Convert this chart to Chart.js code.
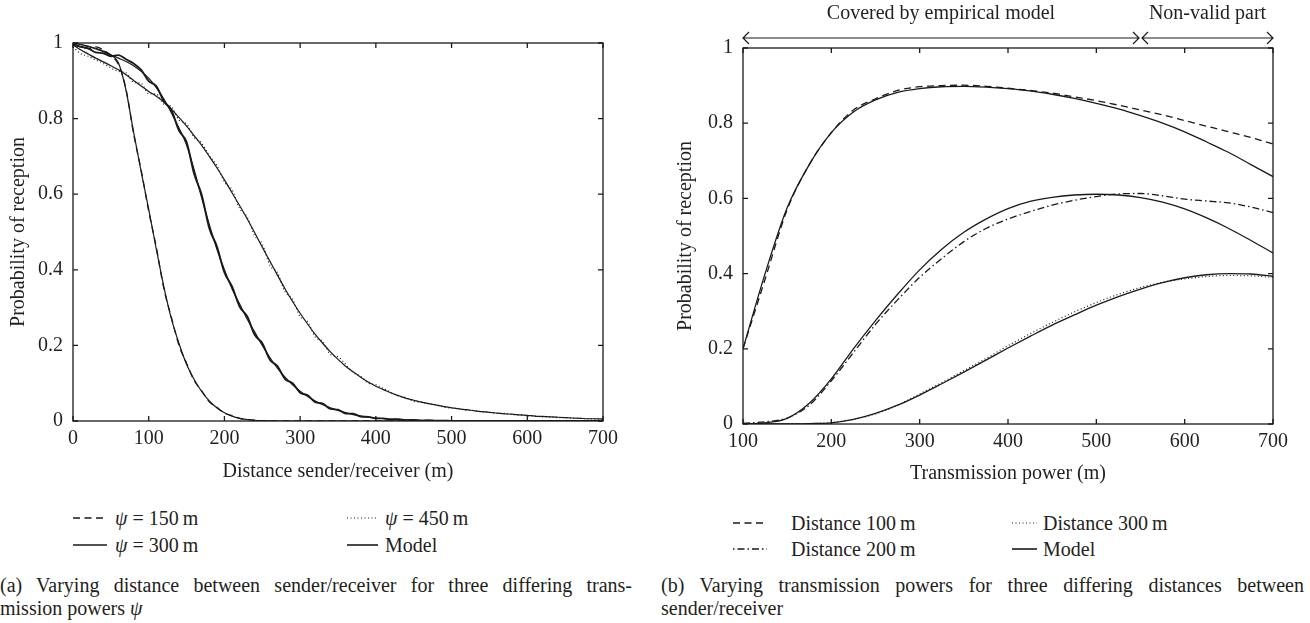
<!DOCTYPE html>
<html lang="en">
<head>
<meta charset="UTF-8">
<title>Probability of reception</title>
<script src="https://cdn.jsdelivr.net/npm/chart.js"></script>
<style>
  body { margin: 0; background: #fff; }
  #page {
    position: relative;
    width: 1310px;
    height: 623px;
    font-family: 'Liberation Serif', serif;
    color: #231f20;
  }
  canvas { position: absolute; top: 0; }
  #chartA { left: 0; }
  #chartB { left: 655px; }
  .sample { position: absolute; }
  .leg { position: absolute; font-size: 20px; line-height: 24px; white-space: nowrap; }
  .cap { position: absolute; font-size: 20px; line-height: 23px; }
  .just { text-align: justify; text-align-last: justify; white-space: nowrap; }
</style>
</head>
<body>
<div id="page">
  <canvas id="chartA" width="655" height="500"></canvas>
  <canvas id="chartB" width="655" height="500"></canvas>

  <!-- legend (a) -->
  <svg class="sample" style="left:73px;top:513px" width="34" height="10"><line x1="0" y1="5" x2="34" y2="5" stroke="#1a1a1a" stroke-width="1.3" stroke-dasharray="7 4.5"/></svg>
  <div class="leg" style="left:115px;top:506px"><i>ψ</i> = 150&thinsp;m</div>
  <svg class="sample" style="left:73px;top:540px" width="34" height="10"><line x1="0" y1="5" x2="34" y2="5" stroke="#1a1a1a" stroke-width="1.6"/></svg>
  <div class="leg" style="left:115px;top:533px"><i>ψ</i> = 300&thinsp;m</div>
  <svg class="sample" style="left:347px;top:513px" width="31" height="10"><line x1="0" y1="5" x2="31" y2="5" stroke="#1a1a1a" stroke-width="1.2" stroke-dasharray="1 2.5"/></svg>
  <div class="leg" style="left:385px;top:506px"><i>ψ</i> = 450&thinsp;m</div>
  <svg class="sample" style="left:347px;top:540px" width="31" height="10"><line x1="0" y1="5" x2="31" y2="5" stroke="#1a1a1a" stroke-width="1.6"/></svg>
  <div class="leg" style="left:385px;top:533px">Model</div>

  <!-- legend (b) -->
  <svg class="sample" style="left:733px;top:518px" width="34" height="10"><line x1="0" y1="5" x2="34" y2="5" stroke="#1a1a1a" stroke-width="1.3" stroke-dasharray="7 4.5"/></svg>
  <div class="leg" style="left:791px;top:511px">Distance 100&thinsp;m</div>
  <svg class="sample" style="left:733px;top:544px" width="34" height="10"><line x1="0" y1="5" x2="34" y2="5" stroke="#1a1a1a" stroke-width="1.3" stroke-dasharray="1.5 3 7 3"/></svg>
  <div class="leg" style="left:791px;top:537px">Distance 200&thinsp;m</div>
  <svg class="sample" style="left:1012px;top:518px" width="25" height="10"><line x1="0" y1="5" x2="25" y2="5" stroke="#1a1a1a" stroke-width="1.2" stroke-dasharray="1 2.5"/></svg>
  <div class="leg" style="left:1043px;top:511px">Distance 300&thinsp;m</div>
  <svg class="sample" style="left:1012px;top:544px" width="25" height="10"><line x1="0" y1="5" x2="25" y2="5" stroke="#1a1a1a" stroke-width="1.6"/></svg>
  <div class="leg" style="left:1043px;top:537px">Model</div>

  <!-- captions -->
  <div class="cap" style="left:0;top:574px;width:632px">
    <div class="just">(a) Varying distance between sender/receiver for three differing trans-</div>
    <div>mission powers <i>ψ</i></div>
  </div>
  <div class="cap" style="left:661px;top:574px;width:643px">
    <div class="just">(b) Varying transmission powers for three differing distances between</div>
    <div>sender/receiver</div>
  </div>
</div>

<script>
  // (a) distance sender/receiver (m), one sample every 10 m
  const distA = [
    0, 10, 20, 30, 40, 50, 60, 70, 80, 90,
    100, 110, 120, 130, 140, 150, 160, 170, 180, 190,
    200, 210, 220, 230, 240, 250, 260, 270, 280, 290,
    300, 310, 320, 330, 340, 350, 360, 370, 380, 390,
    400, 410, 420, 430, 440, 450, 460, 470, 480, 490,
    500, 510, 520, 530, 540, 550, 560, 570, 580, 590,
    600, 610, 620, 630, 640, 650, 660, 670, 680, 690,
    700
  ];

  const meas150 = [
    0.995, 0.99, 0.985, 0.99, 0.982, 0.966, 0.944, 0.878, 0.76, 0.664,
    0.555, 0.46, 0.35, 0.274, 0.2, 0.153, 0.107, 0.08, 0.051, 0.036,
    0.021, 0.014, 0.007, 0.004, 0.002, 0.001, 0.001, 0, 0, 0,
    0, 0, 0, 0, 0, 0, 0, 0, 0, 0,
    0, 0, 0, 0, 0, 0, 0, 0, 0, 0,
    0, 0, 0, 0, 0, 0, 0, 0, 0, 0,
    0, 0, 0, 0, 0, 0, 0, 0, 0, 0,
    0
  ];
  const meas300 = [
    0.998, 0.99, 0.986, 0.975, 0.973, 0.965, 0.968, 0.957, 0.946, 0.929,
    0.899, 0.886, 0.846, 0.822, 0.768, 0.738, 0.654, 0.598, 0.51, 0.462,
    0.393, 0.356, 0.303, 0.277, 0.228, 0.206, 0.162, 0.145, 0.111, 0.1,
    0.075, 0.068, 0.05, 0.046, 0.032, 0.03, 0.02, 0.019, 0.012, 0.011,
    0.007, 0.007, 0.004, 0.005, 0.002, 0.003, 0.001, 0.002, 0.001, 0.001,
    0, 0, 0, 0, 0, 0, 0, 0, 0, 0,
    0, 0, 0, 0, 0, 0, 0, 0, 0, 0,
    0
  ];
  const meas450 = [
    0.99, 0.972, 0.965, 0.955, 0.946, 0.934, 0.925, 0.921, 0.896, 0.893,
    0.866, 0.865, 0.838, 0.832, 0.796, 0.786, 0.75, 0.735, 0.702, 0.676,
    0.632, 0.612, 0.562, 0.54, 0.49, 0.468, 0.412, 0.392, 0.342, 0.322,
    0.276, 0.262, 0.222, 0.21, 0.176, 0.17, 0.15, 0.128, 0.118, 0.1,
    0.096, 0.086, 0.076, 0.066, 0.062, 0.052, 0.05, 0.045, 0.043, 0.037,
    0.034, 0.033, 0.028, 0.028, 0.024, 0.023, 0.02, 0.02, 0.017, 0.016,
    0.014, 0.013, 0.011, 0.011, 0.009, 0.009, 0.007, 0.007, 0.006, 0.005,
    0.005
  ];

  const model150 = [
    1.0, 0.996, 0.992, 0.986, 0.979, 0.968, 0.948, 0.875, 0.765, 0.66,
    0.56, 0.455, 0.355, 0.27, 0.205, 0.15, 0.11, 0.078, 0.053, 0.035,
    0.022, 0.013, 0.007, 0.004, 0.002, 0.001, 0.0005, 0, 0, 0,
    0, 0, 0, 0, 0, 0, 0, 0, 0, 0,
    0, 0, 0, 0, 0, 0, 0, 0, 0, 0,
    0, 0, 0, 0, 0, 0, 0, 0, 0, 0,
    0, 0, 0, 0, 0, 0, 0, 0, 0, 0,
    0
  ];
  const model300 = [
    1.0, 0.996, 0.99, 0.984, 0.977, 0.969, 0.96, 0.951, 0.94, 0.925,
    0.907, 0.882, 0.852, 0.815, 0.775, 0.73, 0.665, 0.59, 0.52, 0.455,
    0.4, 0.35, 0.31, 0.27, 0.235, 0.2, 0.168, 0.14, 0.116, 0.096,
    0.079, 0.065, 0.053, 0.043, 0.035, 0.028, 0.022, 0.017, 0.013, 0.01,
    0.008, 0.006, 0.005, 0.004, 0.003, 0.002, 0.002, 0.001, 0.001, 0.001,
    0, 0, 0, 0, 0, 0, 0, 0, 0, 0,
    0, 0, 0, 0, 0, 0, 0, 0, 0, 0,
    0
  ];
  const model450 = [
    0.995, 0.982, 0.971, 0.96, 0.95, 0.94, 0.929, 0.916, 0.901, 0.886,
    0.872, 0.859, 0.844, 0.825, 0.803, 0.78, 0.755, 0.729, 0.7, 0.67,
    0.638, 0.604, 0.57, 0.535, 0.498, 0.46, 0.423, 0.386, 0.35, 0.316,
    0.285, 0.256, 0.229, 0.205, 0.183, 0.163, 0.145, 0.13, 0.116, 0.103,
    0.092, 0.083, 0.074, 0.067, 0.06, 0.055, 0.05, 0.046, 0.042, 0.038,
    0.035, 0.032, 0.03, 0.027, 0.025, 0.023, 0.021, 0.019, 0.018, 0.016,
    0.015, 0.013, 0.012, 0.011, 0.01, 0.009, 0.008, 0.007, 0.006, 0.006,
    0.005
  ];

  // (b) transmission power (m), one sample every 25 m
  const powB = [
    100, 125, 150, 175, 200, 225, 250, 275, 300, 325, 350, 375, 400,
    425, 450, 475, 500, 525, 550, 575, 600, 625, 650, 675, 700
  ];
  const measD100 = [
    0.2, 0.385, 0.57, 0.69, 0.775, 0.835, 0.865, 0.887, 0.897, 0.9, 0.901, 0.898, 0.893,
    0.887, 0.88, 0.87, 0.86, 0.848, 0.835, 0.822, 0.807, 0.792, 0.777, 0.762, 0.745
  ];
  const measD200 = [
    0.002, 0.006, 0.016, 0.05, 0.115, 0.19, 0.265, 0.33, 0.39, 0.44, 0.485, 0.52, 0.545,
    0.565, 0.582, 0.595, 0.605, 0.612, 0.613, 0.607, 0.598, 0.593, 0.588, 0.577, 0.562
  ];
  const measD300 = [
    0, 0, 0, 0.001, 0.004, 0.012, 0.027, 0.05, 0.08, 0.11, 0.142, 0.174, 0.208,
    0.24, 0.27, 0.298, 0.323, 0.345, 0.363, 0.377, 0.386, 0.392, 0.395, 0.394, 0.39
  ];
  const modelD100 = [
    0.2, 0.4, 0.575, 0.69, 0.775, 0.83, 0.862, 0.882, 0.892, 0.897, 0.898, 0.896, 0.892,
    0.886, 0.877, 0.866, 0.853, 0.838, 0.82, 0.8, 0.777, 0.75, 0.722, 0.69, 0.658
  ];
  const modelD200 = [
    0, 0.003, 0.015, 0.055, 0.12, 0.2, 0.275, 0.345, 0.41, 0.465, 0.51, 0.545, 0.573,
    0.592, 0.603, 0.609, 0.611, 0.609, 0.602, 0.59, 0.572, 0.548, 0.52, 0.488, 0.455
  ];
  const modelD300 = [
    0, 0, 0, 0.001, 0.003, 0.012, 0.028, 0.05, 0.077, 0.107, 0.138, 0.17, 0.202,
    0.233, 0.263, 0.29, 0.316, 0.339, 0.359, 0.376, 0.389, 0.397, 0.4, 0.399, 0.393
  ];

  // region arrows above plot (b)
  const regionBounds = [100, 550, 700];
  const regionLabels = ['Covered by empirical model', 'Non-valid part'];

  const ink = '#1a1a1a';
  const textInk = '#231f20';
  const font = { family: "'Liberation Serif', serif", size: 20 };

  const DASH = [7, 4.5];
  const DOT = [1, 2.5];
  const DASHDOT = [7, 3, 1.5, 3];

  function series(xs, ys, dash, width) {
    return {
      data: xs.map((x, i) => ({ x: x, y: ys[i] })),
      borderColor: ink,
      borderWidth: width || 1.2,
      borderDash: dash || [],
      pointRadius: 0,
      fill: false,
      cubicInterpolationMode: 'monotone'
    };
  }

  // box round the plot with inward ticks on all four sides
  const framePlugin = {
    id: 'frame',
    afterDatasetsDraw(chart) {
      const { ctx, chartArea: a, scales: { x, y } } = chart;
      ctx.save();
      ctx.strokeStyle = ink;
      ctx.lineWidth = 1.3;
      ctx.strokeRect(a.left, a.top, a.right - a.left, a.bottom - a.top);
      ctx.beginPath();
      x.ticks.forEach(t => {
        const px = x.getPixelForValue(t.value);
        ctx.moveTo(px, a.bottom); ctx.lineTo(px, a.bottom - 5);
        ctx.moveTo(px, a.top); ctx.lineTo(px, a.top + 5);
      });
      y.ticks.forEach(t => {
        const py = y.getPixelForValue(t.value);
        ctx.moveTo(a.left, py); ctx.lineTo(a.left + 5, py);
        ctx.moveTo(a.right, py); ctx.lineTo(a.right - 5, py);
      });
      ctx.stroke();
      ctx.restore();
    }
  };

  // double arrows with labels above the plot
  const regionPlugin = {
    id: 'regions',
    afterDraw(chart) {
      const { ctx, scales: { x } } = chart;
      const yArrow = 38, yText = 14;
      ctx.save();
      ctx.strokeStyle = ink;
      ctx.fillStyle = textInk;
      ctx.lineWidth = 1.2;
      ctx.font = "20px 'Liberation Serif', serif";
      ctx.textAlign = 'center';
      ctx.textBaseline = 'middle';
      regionLabels.forEach((label, i) => {
        const x0 = x.getPixelForValue(regionBounds[i]) + (i > 0 ? 1.5 : 0);
        const x1 = x.getPixelForValue(regionBounds[i + 1]) - (i < regionLabels.length - 1 ? 1.5 : 0);
        ctx.beginPath();
        ctx.moveTo(x0, yArrow); ctx.lineTo(x1, yArrow);
        ctx.moveTo(x0 + 6, yArrow - 6); ctx.lineTo(x0, yArrow); ctx.lineTo(x0 + 6, yArrow + 6);
        ctx.moveTo(x1 - 6, yArrow - 6); ctx.lineTo(x1, yArrow); ctx.lineTo(x1 - 6, yArrow + 6);
        ctx.stroke();
        ctx.fillText(label, (x0 + x1) / 2, yText);
      });
      ctx.restore();
    }
  };

  function axes(xmin, xTitle, yWidth, xHeight, yTitlePad, xTitlePad) {
    return {
      x: {
        type: 'linear', min: xmin, max: 700,
        grid: { display: false, drawTicks: false },
        border: { display: false },
        ticks: { stepSize: 100, autoSkip: false, maxRotation: 0, padding: 6, color: textInk, font: font },
        title: { display: true, text: xTitle, color: textInk, font: font, padding: { top: 0, bottom: xTitlePad } },
        afterFit: s => { s.height = xHeight; }
      },
      y: {
        type: 'linear', min: 0, max: 1,
        grid: { display: false, drawTicks: false },
        border: { display: false },
        ticks: {
          stepSize: 0.2, padding: 10, color: textInk, font: font,
          callback: v => String(Number(v.toFixed(1)))
        },
        title: { display: true, text: 'Probability of reception', color: textInk, font: font, padding: { top: yTitlePad, bottom: 0 } },
        afterFit: s => { s.width = yWidth; }
      }
    };
  }

  const common = {
    responsive: false,
    animation: false,
    events: [],
    plugins: { legend: { display: false }, tooltip: { enabled: false } }
  };

  new Chart(document.getElementById('chartA'), {
    type: 'line',
    data: {
      datasets: [
        series(distA, model150, null, 1.2),
        series(distA, model300, null, 1.2),
        series(distA, model450, null, 1.2),
        series(distA, meas150, DASH, 1.3),
        series(distA, meas300, null, 1.9),
        series(distA, meas450, DOT, 1.2)
      ]
    },
    options: Object.assign({}, common, {
      layout: { padding: { top: 43, right: 52, bottom: 0, left: 0 } },
      scales: axes(0, 'Distance sender/receiver (m)', 73, 79, 7, 16)
    }),
    plugins: [framePlugin]
  });

  new Chart(document.getElementById('chartB'), {
    type: 'line',
    data: {
      datasets: [
        series(powB, modelD100, null, 1.3),
        series(powB, modelD200, null, 1.3),
        series(powB, modelD300, null, 1.3),
        series(powB, measD100, DASH, 1.3),
        series(powB, measD200, DASHDOT, 1.3),
        series(powB, measD300, DOT, 1.2)
      ]
    },
    options: Object.assign({}, common, {
      layout: { padding: { top: 48, right: 37, bottom: 0, left: 0 } },
      scales: axes(100, 'Transmission power (m)', 88, 76, 19, 14)
    }),
    plugins: [framePlugin, regionPlugin]
  });
</script>
</body>
</html>
